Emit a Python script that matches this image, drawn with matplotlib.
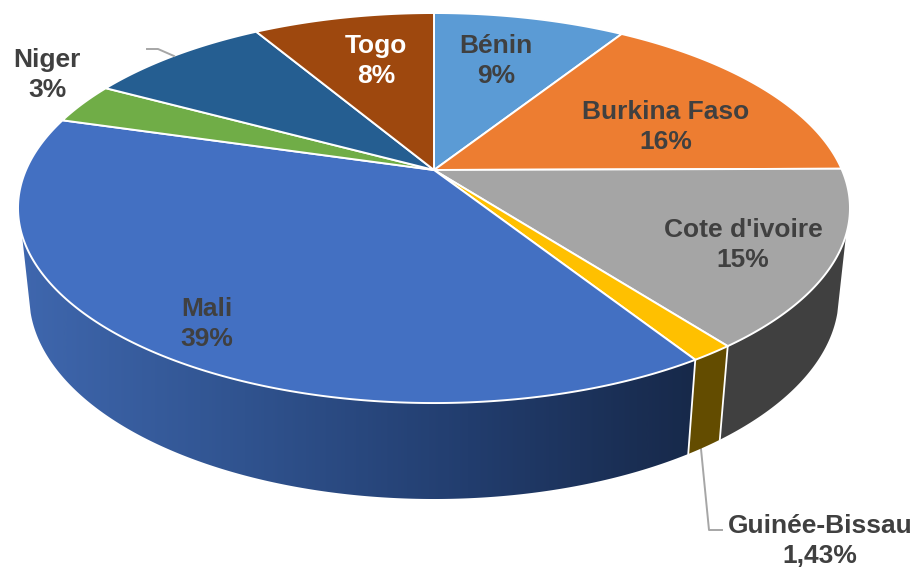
import numpy as np
import matplotlib
matplotlib.use('Agg')
import matplotlib.pyplot as plt
from matplotlib.colors import LinearSegmentedColormap
from matplotlib.patches import Polygon

plt.rcParams['font.family'] = ['Liberation Sans', 'DejaVu Sans']

# share of each slice, clockwise from 12 o'clock
values = [9.0, 15.9, 14.7, 1.43, 38.5, 3.4, 8.6, 8.5]
labels = ['Bénin\n9%', 'Burkina Faso\n16%', "Cote d'ivoire\n15%", 'Guinée-Bissau\n1,43%',
          'Mali\n39%', 'Niger\n3%', '', 'Togo\n8%']
top_colors = ['#5B9BD5', '#ED7D31', '#A5A5A5', '#FFC000', '#4370C2', '#70AD47', '#255E91', '#9E480E']
side_colors = ['#404040', '#634C00']
label_pos = [(496, 61), (666, 127), (743, 245), (820, 541), (207, 324), (47, 75), None, (376, 61)]
label_colors = ['#404040'] * 7 + ['#FFFFFF']

# perspective of the disc in pixels (top face, bottom face)
P = 0.195
TOP = dict(a=408.0, b=187.6, y0=170.0)
BOT = dict(a=397.0, b=195.3, y0=256.4)
# where the wall outline leaves the top and bottom rims, as a fraction of the turn
SIL_RIGHT = (0.3025, 0.2943)
SIL_LEFT = (0.6975, 0.7057)


def rim(frac, face, cx=434.0):
    ang = 2 * np.pi * np.asarray(frac)
    u, v = np.sin(ang), np.cos(ang)
    den = 1 + P * v
    return np.column_stack([cx + face['a'] * u / den, face['y0'] - face['b'] * v / den])


def arc(start, end):
    n = max(int((end - start) * 800), 4)
    return np.linspace(start, end, n)


fig = plt.figure(figsize=(9.16, 5.69), dpi=100)
ax = fig.add_axes([0, 0, 1, 1])
ax.set_xlim(0, 916)
ax.set_ylim(569, 0)
ax.axis('off')

cuts = np.concatenate([[0], np.cumsum(values)]) / sum(values)

# side wall: cote d'ivoire, guinee, mali
pts = np.vstack([rim(arc(SIL_RIGHT[0], cuts[3]), TOP), rim(arc(SIL_RIGHT[1], cuts[3])[::-1], BOT)])
ax.add_patch(Polygon(pts, closed=True, fc=side_colors[0], ec='none', zorder=2))

t = arc(cuts[3], cuts[4])
pts = np.vstack([rim(t, TOP), rim(t[::-1], BOT)])
ax.add_patch(Polygon(pts, closed=True, fc=side_colors[1], ec='none', zorder=2))

pts = np.vstack([rim(arc(cuts[4], SIL_LEFT[0]), TOP), rim(arc(cuts[4], SIL_LEFT[1])[::-1], BOT)])
mali_side = Polygon(pts, closed=True, fc='none', ec='none', zorder=2)
ax.add_patch(mali_side)
grad = LinearSegmentedColormap.from_list('side', ['#3F67AE', '#30538F', '#223D6E', '#17294A'])
im = ax.imshow(np.linspace(0, 1, 300)[None, :], cmap=grad, extent=(18, 695, 569, 0),
               aspect='auto', zorder=2)
im.set_clip_path(mali_side)
ax.set_xlim(0, 916)
ax.set_ylim(569, 0)

# seams between side panels
for c in [cuts[3], cuts[4]]:
    seam = np.vstack([rim([c], TOP), rim([c], BOT)])
    ax.plot(seam[:, 0], seam[:, 1], color='white', lw=1.3, zorder=3)

# top face
centre = (434.0, TOP['y0'])
for i, col in enumerate(top_colors):
    pts = np.vstack([[centre], rim(arc(cuts[i], cuts[i + 1]), TOP)])
    ax.add_patch(Polygon(pts, closed=True, fc=col, ec='white', lw=1.4, joinstyle='round', zorder=4))

# leader lines
ax.plot([147, 158, 174], [49, 49, 56], color='#A6A6A6', lw=1.4, zorder=5)
ax.plot([701, 709, 722], [449, 530, 530], color='#A6A6A6', lw=1.4, zorder=1)

for txt, pos, col in zip(labels, label_pos, label_colors):
    if pos is None:
        continue
    ax.text(pos[0], pos[1], txt, color=col, fontsize=19, fontweight='bold',
            ha='center', va='center', linespacing=1.34, zorder=6)

fig.savefig('out.png', dpi=100)
